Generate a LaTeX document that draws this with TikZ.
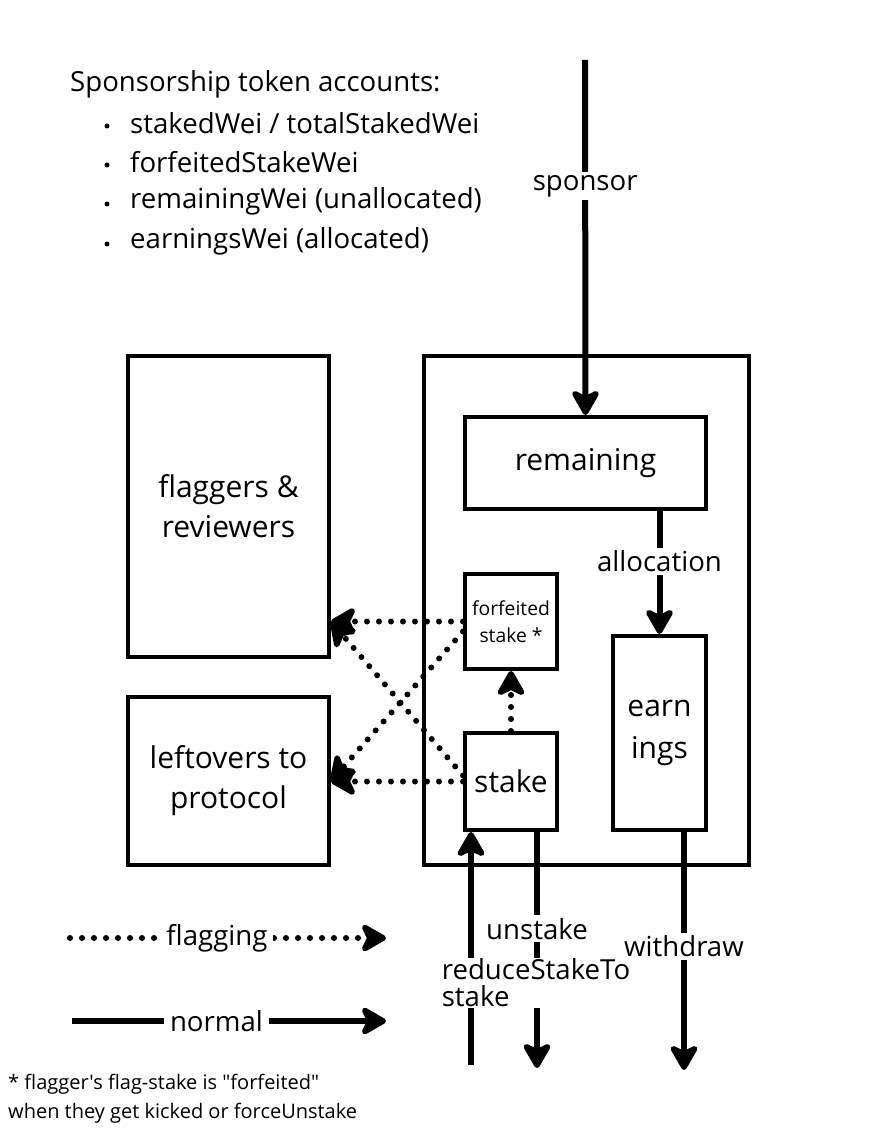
\documentclass[tikz,border=0pt]{standalone}
\usepackage{fontspec}
\setmainfont{Open Sans}[Ligatures=TeXOff]
\usetikzlibrary{arrows.meta}

\begin{document}
\begin{tikzpicture}[x=1pt, y=-1pt, font=\fontsize{27.6}{39}\selectfont,
    box/.style={draw, line width=4pt, align=center, inner sep=0pt, font=\fontsize{30}{40}\selectfont},
    flow/.style={line width=6pt, -{Stealth[length=30pt,width=34pt,inset=8pt,round]}},
    flag/.style={flow, line cap=round, dash pattern=on 0pt off 12pt},
    lbl/.style={fill=white, inner xsep=6pt, inner ysep=3pt}]
    \useasboundingbox (0,0) rectangle (884,1131);

    % Account list
    \node[anchor=west, inner sep=0pt] (title) at (70,84) {Sponsorship token accounts:};
    \foreach \y/\txt in {123/{stakedWei / totalStakedWei}, 162/forfeitedStakeWei,
        201/{remainingWei (unallocated)}, 241/{earningsWei (allocated)}} {
        \node[circle, fill, inner sep=0pt, minimum size=5pt] (dot\y) at (107,\y+3) {};
        \node[anchor=west, inner sep=0pt] (item\y) at (130,\y) {\txt};
    }

    % Boxes
    \node[box, minimum width=201pt, minimum height=301pt] (flaggers) at (228.5,506.5) {flaggers \&\\reviewers};
    \node[box, minimum width=201pt, minimum height=168pt] (leftovers) at (228.5,781) {leftovers to\\protocol};
    \node[box, minimum width=325pt, minimum height=509pt] (sponsorship) at (586.5,610.5) {};
    \node[box, minimum width=241pt, minimum height=92pt] (remaining) at (585.5,463) {remaining};
    \node[box, minimum width=92pt, minimum height=95pt, font=\fontsize{19.3}{27}\selectfont] (forfeited) at (511,621.5) {forfeited\\stake *};
    \node[box, minimum width=92pt, minimum height=97pt] (stake) at (511,781.5) {stake};
    \node[box, minimum width=93pt, minimum height=194pt, font=\fontsize{30}{42}\selectfont] (earnings) at (659.5,733) {earn\\ings};

    % Normal flows
    \coordinate (sponsortop) at (585,60);
    \draw[flow] (sponsortop) -- (remaining.north) node[lbl, pos=0.355] (sponsorlbl) {sponsor};
    \draw[flow] (remaining.south -| earnings.north) -- (earnings.north) node[lbl, pos=0.41] (alloclbl) {allocation};

    % Flagging flows
    \draw[flag] (stake.north) -- (forfeited.south);
    \draw[flag] (forfeited.west) -- (flaggers.east |- forfeited.west);
    \draw[flag] ([yshift=-10pt]forfeited.west) -- (leftovers.east);
    \draw[flag] ([yshift=6pt]stake.west) -- (flaggers.east |- forfeited.west);
    \draw[flag] (stake.west) -- (leftovers.east |- stake.west);

    % In and out of the sponsorship
    \coordinate (reducebot) at (471,1065);
    \coordinate (unstakebot) at (537,1068);
    \coordinate (withdrawbot) at (684,1070);
    \draw[flow] (reducebot) -- (reducebot |- stake.south);
    \draw[flow] (unstakebot |- stake.south) -- (unstakebot) node[lbl, pos=0.41] (unstakelbl) {unstake};
    \draw[flow] (withdrawbot |- earnings.south) -- (withdrawbot) node[lbl, pos=0.48] (withdrawlbl) {withdraw};
    \node[lbl, align=left, inner sep=1pt, font=\fontsize{27.6}{27}\selectfont] (reducelbl) at (536,983) {reduceStakeTo\\stake};

    % Legend
    \coordinate (flagstart) at (70,938);
    \coordinate (flagend) at (386,938);
    \coordinate (normalstart) at (72,1021);
    \coordinate (normalend) at (386,1021);
    \draw[flag] (flagstart) -- (flagend) node[lbl, pos=0.465] (flaglbl) {flagging};
    \draw[flow] (normalstart) -- (normalend) node[lbl, pos=0.46] (normallbl) {normal};

    \node[anchor=north west, align=left, inner sep=0pt, font=\fontsize{20}{29}\selectfont] (note) at (8,1074)
        {* flagger's flag-stake is "forfeited"\\when they get kicked or forceUnstake};
\end{tikzpicture}
\end{document}
